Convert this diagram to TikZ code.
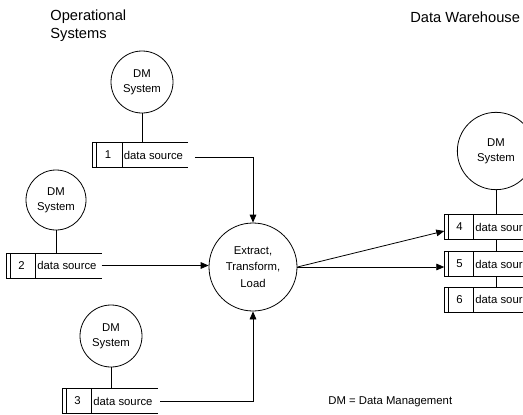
\documentclass[tikz,border=0pt]{standalone}
\usepackage{fontspec}
\setmainfont{Liberation Sans}
\usetikzlibrary{arrows.meta}

\tikzset{
    proc/.style={circle, draw, inner sep=0pt, align=center, font=\fontsize{8.5}{11}\selectfont},
    store/.style={minimum width=71pt, minimum height=18pt, inner sep=0pt},
    lbl/.style={inner sep=0pt, font=\fontsize{8.5}{10}\selectfont},
    flow/.style={-{Triangle[length=6pt,width=5pt]}}
}

\begin{document}
\begin{tikzpicture}[x=0.75pt, y=-0.75pt, line width=0.6pt]
        \useasboundingbox (0,0) rectangle (523,414);
        \clip (0,0) rectangle (523,414);

        % headings
        \node[anchor=west, align=left, inner sep=0pt, font=\fontsize{11}{13.5}\selectfont] (ops) at (50,26) {Operational\\Systems};
        \node[anchor=west, inner sep=0pt, font=\fontsize{11}{13}\selectfont] (dwh) at (410,17) {Data Warehouse};
        \node[lbl, anchor=west] (key) at (328,402) {DM = Data Management};

        % data stores
        \foreach \n/\cx/\cy in {1/140.5/155, 2/54/265.5, 3/110/401, 4/492/227, 5/492/264, 6/492/299.5} {
            \node[store] (st\n) at (\cx,\cy) {};
            \draw (st\n.north east) -- (st\n.north west) -- (st\n.south west) -- (st\n.south east);
            \draw ([xshift=3pt]st\n.north west) -- ([xshift=3pt]st\n.south west);
            \draw ([xshift=22pt]st\n.north west) -- ([xshift=22pt]st\n.south west);
            \node[lbl] (no\n) at ([xshift=11.5pt]st\n.west) {\n};
            \node[lbl, anchor=west] (ds\n) at ([xshift=23pt]st\n.west) {data source};
        }

        % processes
        \node[proc, minimum size=46.5pt] (dm1) at (142,82) {DM\\System};
        \node[proc, minimum size=45pt] (dm2) at (56,200) {DM\\System};
        \node[proc, minimum size=46.5pt] (dm3) at (111,336) {DM\\System};
        \node[proc, minimum size=58pt] (dm4) at (496,151) {DM\\System};
        \node[proc, minimum size=66pt, font=\fontsize{8.5}{12.5}\selectfont] (etl) at (253,267) {Extract,\\Transform,\\Load};

        % links
        \draw (dm1.south) -- (dm1.south |- st1.north);
        \draw (dm2.south) -- (dm2.south |- st2.north);
        \draw (dm3.south) -- (dm3.south |- st3.north);
        \draw (dm4.south) -- (dm4.south |- st4.north);
        \draw (st4.south -| dm4) -- (st5.north -| dm4);
        \draw (st5.south -| dm4) -- (st6.north -| dm4);

        \draw[flow] ([xshift=5pt, yshift=-2pt]st1.east) -| (etl.north);
        \draw[flow] (st2.east) -- (st2.east -| etl.west);
        \draw[flow] ([xshift=2pt]st3.east) -| (etl.south);
        \draw[flow] (etl.east) -- ([yshift=-3pt]st4.west);
        \draw[flow] (etl.east) -- (etl.east -| st5.west);
    \end{tikzpicture}
\end{document}
